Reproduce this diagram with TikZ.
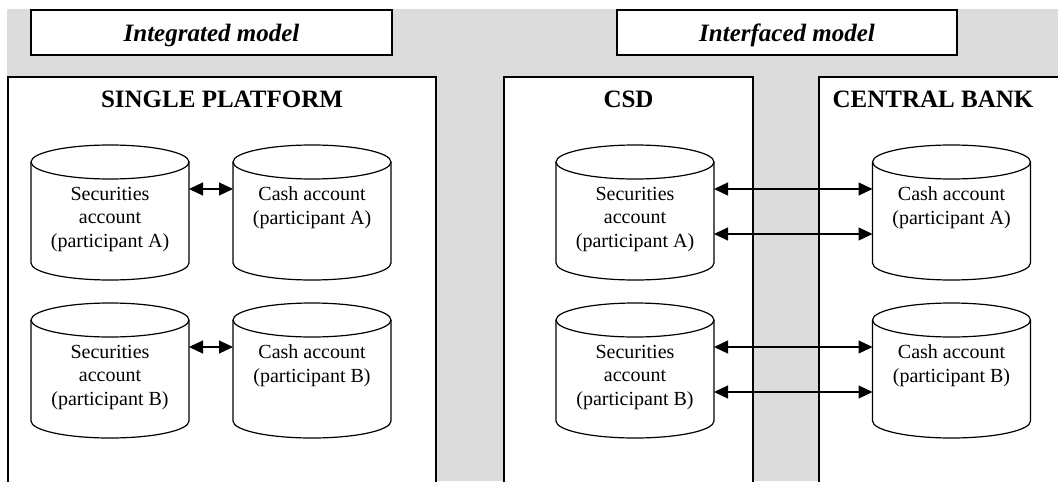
\documentclass[tikz,border=0pt]{standalone}
\usepackage{fontspec}
\setmainfont{Liberation Serif}
\usetikzlibrary{arrows.meta,calc}
\definecolor{panelgray}{RGB}{220,220,220}

\begin{document}
\begin{tikzpicture}[x=0.5pt,y=0.5pt,
    panel/.style={draw,line width=0.7pt,fill=white,inner sep=0pt,outer sep=0pt,anchor=north west},
    model/.style={draw,line width=1pt,fill=white,minimum height=22.5pt,text depth=0pt,
      font=\fontsize{12.5}{15}\selectfont\bfseries\itshape},
    head/.style={font=\fontsize{12.5}{15}\selectfont\bfseries,inner sep=0pt},
    acct/.style={minimum width=79pt,minimum height=67.5pt,inner sep=0pt,outer sep=0pt},
    cyl/.style={line width=0.6pt},
    lbl/.style={align=center,font=\fontsize{10}{11.75}\selectfont,inner sep=0pt},
    link/.style={{Triangle[length=7pt,width=6.5pt]}-{Triangle[length=7pt,width=6.5pt]},line width=0.6pt}]
  \useasboundingbox (0,-481) rectangle (1058,0);
  \clip (0,-481) rectangle (1058,0);
  \fill[panelgray] (7,-481) rectangle (1058,-9);

  % model titles
  \node[model,minimum width=180.5pt] (integ) at (211.5,-32.5) {Integrated model};
  \node[model,minimum width=170pt] (inter) at (787,-32.5) {Interfaced model};

  % panels
  \node[panel,minimum width=214pt,minimum height=211.5pt] (single) at (8,-77) {};
  \node[panel,minimum width=124.5pt,minimum height=211.5pt] (csd) at (504,-77) {};
  \node[panel,minimum width=130.5pt,minimum height=211.5pt] (cb) at (819,-77) {};
  \node[head] (single-t) at (222,-99) {SINGLE PLATFORM};
  \node[head] (csd-t) at (628.5,-99) {CSD};
  \node[head] (cb-t) at (933,-99) {CENTRAL BANK};

  % account places
  \node[acct] (sa) at (110,-212.5) {};
  \node[acct] (ca) at (312,-212.5) {};
  \node[acct] (sb) at (110,-370.5) {};
  \node[acct] (cb-b) at (312,-370.5) {};
  \node[acct] (csa) at (635,-212.5) {};
  \node[acct] (cca) at (951.5,-212.5) {};
  \node[acct] (csb) at (635,-370.5) {};
  \node[acct] (ccb) at (951.5,-370.5) {};

  % cylinders
  \foreach \n in {sa,ca,sb,cb-b,csa,cca,csb,ccb} {
    \draw[cyl,fill=white] ([yshift=-8.5pt]\n.north west) -- ([yshift=8.5pt]\n.south west)
      arc[start angle=180,end angle=360,x radius=39.5pt,y radius=8.5pt]
      -- ([yshift=-8.5pt]\n.north east)
      arc[start angle=0,end angle=180,x radius=39.5pt,y radius=8.5pt] -- cycle;
    \draw[cyl] ([yshift=-8.5pt]\n.north west)
      arc[start angle=180,end angle=360,x radius=39.5pt,y radius=8.5pt];
  }

  % single platform
  \node[lbl,yshift=-3.5pt] (sa-l) at (sa) {Securities\\account\\(participant A)};
  \node[lbl,yshift=-3.5pt] (ca-l) at (ca) {Cash account\\(participant A)\\\vphantom{(}};
  \node[lbl,yshift=-3.5pt] (sb-l) at (sb) {Securities\\account\\(participant B)};
  \node[lbl,yshift=-3.5pt] (cb-b-l) at (cb-b) {Cash account\\(participant B)\\\vphantom{(}};
  \draw[link] ([yshift=11.75pt]sa.east) -- ([yshift=11.75pt]ca.west);
  \draw[link] ([yshift=11.75pt]sb.east) -- ([yshift=11.75pt]cb-b.west);

  % csd and central bank
  \node[lbl,yshift=-3.5pt] (csa-l) at (csa) {Securities\\account\\(participant A)};
  \node[lbl,yshift=-3.5pt] (cca-l) at (cca) {Cash account\\(participant A)\\\vphantom{(}};
  \node[lbl,yshift=-3.5pt] (csb-l) at (csb) {Securities\\account\\(participant B)};
  \node[lbl,yshift=-3.5pt] (ccb-l) at (ccb) {Cash account\\(participant B)\\\vphantom{(}};
  \draw[link] ([yshift=11.75pt]csa.east) -- ([yshift=11.75pt]cca.west);
  \draw[link] ([yshift=-10.75pt]csa.east) -- ([yshift=-10.75pt]cca.west);
  \draw[link] ([yshift=11.75pt]csb.east) -- ([yshift=11.75pt]ccb.west);
  \draw[link] ([yshift=-10.75pt]csb.east) -- ([yshift=-10.75pt]ccb.west);
\end{tikzpicture}
\end{document}
